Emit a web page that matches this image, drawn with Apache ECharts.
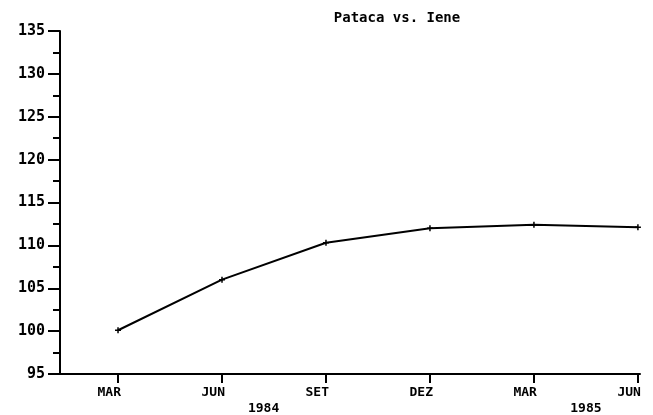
<!DOCTYPE html>
<html>
<head>
<meta charset="utf-8">
<script src="https://cdn.jsdelivr.net/npm/echarts@6/dist/echarts.min.js"></script>
<style>
  html, body { margin: 0; padding: 0; background: #fff; }
  #chart { width: 653px; height: 415px; }
</style>
</head>
<body>
<div id="chart"></div>
<script>
// quarters, Mar 1984 .. Jun 1985
var months = ["MAR", "JUN", "SET", "DEZ", "MAR", "JUN"];
var rates = [100.1, 106.0, 110.3, 112.0, 112.4, 112.1];
var years = ["1984", "1985"];
var yearAt = [1.4, 4.5];

var font = "DejaVu Sans Mono";
var plus = "path://M0,5L10,5M5,0L5,10";

var chart = echarts.init(document.getElementById("chart"));
var option = {
  animation: false,
  backgroundColor: "#fff",
  title: {
    text: "Pataca vs. Iene",
    left: 392,
    textAlign: "center",
    top: 6,
    textStyle: { fontFamily: font, fontWeight: "bold", fontSize: 14, color: "#000" },
  },
  grid: { left: 60, right: 13, top: 31, bottom: 41 },
  xAxis: [
    {
      type: "value",
      min: -0.558,
      max: 5.02,
      splitLine: { show: false },
      axisLine: { onZero: false, lineStyle: { color: "#000", width: 2 } },
      axisTick: {
        customValues: [0, 1, 2, 3, 4, 5],
        inside: false,
        length: 9,
        lineStyle: { color: "#000", width: 2 },
      },
      axisLabel: {
        customValues: [0, 1, 2, 3, 4, 5],
        margin: 12,
        align: "right",
        padding: [0, -3, 0, 0],
        fontFamily: font,
        fontWeight: "bold",
        fontSize: 13,
        color: "#000",
        formatter: function (v) {
          return months[Math.round(v)];
        },
      },
    },
    {
      type: "value",
      position: "bottom",
      min: -0.558,
      max: 5.02,
      splitLine: { show: false },
      axisLine: { show: false, onZero: false },
      axisTick: { show: false },
      axisLabel: {
        customValues: yearAt,
        margin: 28,
        fontFamily: font,
        fontWeight: "bold",
        fontSize: 13,
        color: "#000",
        formatter: function (v) {
          return years[yearAt.indexOf(v)];
        },
      },
    },
  ],
  yAxis: {
    type: "value",
    min: 95,
    max: 135,
    interval: 5,
    splitLine: { show: false },
    axisLine: { show: true, onZero: false, lineStyle: { color: "#000", width: 2 } },
    axisTick: { show: true, length: 12, lineStyle: { color: "#000", width: 2 } },
    minorTick: { show: true, splitNumber: 2, length: 7, lineStyle: { color: "#000", width: 2 } },
    axisLabel: {
      margin: 15,
      fontFamily: font,
      fontWeight: "bold",
      fontSize: 15,
      color: "#000",
    },
  },
  series: [
    {
      type: "line",
      data: rates.map(function (r, i) {
        return [i, r];
      }),
      symbol: plus,
      symbolSize: 6,
      showSymbol: true,
      itemStyle: { color: "#fff", borderColor: "#000", borderWidth: 1.5 },
      lineStyle: { color: "#000", width: 2 },
    },
  ],
};
chart.setOption(option);
</script>
</body>
</html>
